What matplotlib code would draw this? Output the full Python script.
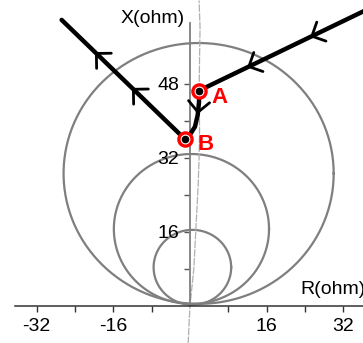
import numpy as np
import matplotlib.pyplot as plt

plt.rcParams['font.family'] = ['Liberation Sans', 'DejaVu Sans']

# impedance circles: centre R, centre X, radius (ohm)
circle_r0 = [1.8, 0.3, 0.5]
circle_x0 = [28.6, 16.6, 8.3]
circle_rad = [28.2, 16.2, 8.1]

# thin locus line close to the X axis
locus_r = [-0.4, -0.2, 0.0, 0.4, 0.8, 1.1, 1.4, 1.7, 1.9, 2.0, 1.9, 2.0, 2.1, 1.9]
locus_x = [-8.5, -4.0, 0.0, 4.0, 8.0, 14.0, 20.0, 26.0, 32.0, 38.0, 46.0, 54.0, 60.0, 66.0]

# impedance trajectory: incoming branch, A -> B transition, outgoing branch
path_in_r = [36.5, 1.88]
path_in_x = [63.8, 46.5]
path_mid_r = [1.88, 1.88, 1.6, 1.04, 0.0, -1.04]
path_mid_x = [46.5, 44.0, 41.2, 38.7, 37.0, 36.0]
path_out_r = [-1.04, -26.8]
path_out_x = [36.0, 61.8]

point_names = ['A', 'B']
point_r = [1.88, -1.04]
point_x = [46.5, 36.0]

xticks = [-32, -24, -16, -8, 8, 16, 24, 32]
xtick_labels = ['-32', '', '-16', '', '', '16', '', '32']
yticks = [8, 16, 24, 32, 40, 48]
ytick_labels = ['', '16', '', '32', '', '48']


def chevron(ax, r, x, frac):
    """Open arrow head on a polyline at a fraction of its length."""
    r = np.asarray(r, float)
    x = np.asarray(x, float)
    seg = np.hypot(np.diff(r), np.diff(x))
    cum = np.concatenate([[0], np.cumsum(seg)])
    s = frac * cum[-1]
    i = min(np.searchsorted(cum, s) - 1, len(seg) - 1)
    i = max(i, 0)
    t = (s - cum[i]) / seg[i]
    tip = (r[i] + t * (r[i + 1] - r[i]), x[i] + t * (x[i + 1] - x[i]))
    back = (tip[0] - 0.05 * (r[i + 1] - r[i]), tip[1] - 0.05 * (x[i + 1] - x[i]))
    ax.annotate('', xy=tip, xytext=back,
                arrowprops=dict(arrowstyle='->,head_length=0.38,head_width=0.38',
                                mutation_scale=20, lw=2, color='k',
                                shrinkA=0, shrinkB=0),
                zorder=5)


fig = plt.figure(figsize=(3.63, 3.43), dpi=100)
ax = fig.add_axes([0, 0, 1, 1])
ax.set_xlim(-39.67, 36.12)
ax.set_ylim(-8.06, 66.1)

t = np.linspace(0, 2 * np.pi, 400)
for r0, x0, rad in zip(circle_r0, circle_x0, circle_rad):
    ax.plot(r0 + rad * np.cos(t), x0 + rad * np.sin(t), color='#7f7f7f', lw=1.6, zorder=1)

ax.plot(locus_r, locus_x, color='#b0b0b0', lw=0.9, ls=(0, (6, 1)), zorder=2)

ax.plot(path_in_r, path_in_x, color='k', lw=3.2, solid_capstyle='round', zorder=4)
ax.plot(path_mid_r, path_mid_x, color='k', lw=3.2, solid_capstyle='round', zorder=4)
ax.plot(path_out_r, path_out_x, color='k', lw=3.2, solid_capstyle='round', zorder=4)

# direction marks
chevron(ax, path_in_r, path_in_x, 0.33)
chevron(ax, path_in_r, path_in_x, 0.71)
chevron(ax, path_out_r, path_out_x, 0.43)
chevron(ax, path_out_r, path_out_x, 0.73)
chevron(ax, path_mid_r, path_mid_x, 0.45)

ax.plot(point_r, point_x, 'o', ms=9.5, mfc='white', mec='red', mew=2.4, zorder=6)
ax.plot(point_r, point_x, 'o', ms=4.5, color='k', zorder=7)
ax.text(point_r[0] + 2.6, point_x[0] - 1.4, point_names[0], color='red',
        fontsize=16, fontweight='bold', ha='left', va='center', zorder=7)
ax.text(point_r[1] + 2.6, point_x[1] - 1.1, point_names[1], color='red',
        fontsize=16, fontweight='bold', ha='left', va='center', zorder=7)

for side in ['top', 'right']:
    ax.spines[side].set_visible(False)
ax.spines['left'].set_position(('data', 0))
ax.spines['left'].set_bounds(0, 61.2)
ax.spines['left'].set_color('#7f7f7f')
ax.spines['left'].set_linewidth(1.3)
ax.spines['bottom'].set_position(('data', 0))
ax.spines['bottom'].set_bounds(-36.5, 36.12)
ax.spines['bottom'].set_color('#333333')
ax.spines['bottom'].set_linewidth(1.1)

ax.set_xticks(xticks, xtick_labels)
ax.set_yticks(yticks, ytick_labels)
ax.tick_params(axis='x', direction='out', length=4, width=1, color='#333333',
               labelsize=14, pad=5)
ax.tick_params(axis='y', direction='out', length=4, width=1, color='#555555',
               labelsize=14, pad=4)

ax.text(-1.2, 62.2, 'X(ohm)', fontsize=14, ha='right', va='center')
ax.text(23.0, 3.4, 'R(ohm)', fontsize=14, ha='left', va='center')

fig.savefig('out.png', dpi=100)
